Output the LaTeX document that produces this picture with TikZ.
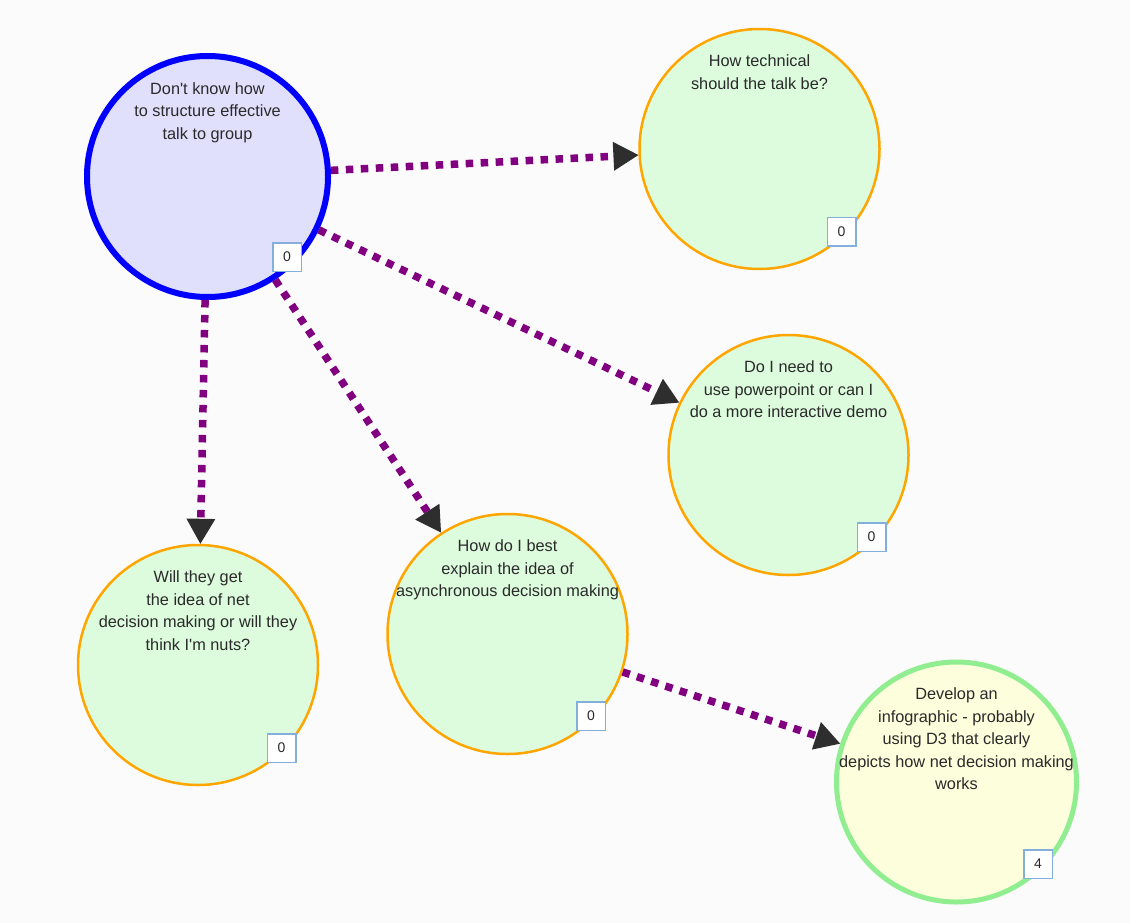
\documentclass[tikz,border=0pt]{standalone}
\usepackage{fontspec}
\setmainfont{Liberation Sans}
\usetikzlibrary{arrows.meta}
\definecolor{bg}{HTML}{FBFBFB}
\definecolor{orangeS}{HTML}{FFA500}
\definecolor{greenF}{HTML}{DDFBDD}
\definecolor{blueS}{HTML}{0000FF}
\definecolor{lavF}{HTML}{E0E0FC}
\definecolor{greenS}{HTML}{90EE90}
\definecolor{yellowF}{HTML}{FCFEDC}
\definecolor{boxS}{HTML}{84AEDC}
\definecolor{linkc}{HTML}{800080}
\definecolor{headc}{HTML}{2E2E2E}
\definecolor{textc}{HTML}{2A2A2A}
\begin{document}
\begin{tikzpicture}[x=1pt,y=-1pt,
  bubble/.style={circle, minimum size=240pt, inner sep=0pt, line width=2.5pt, draw=orangeS, fill=greenF},
  rootbubble/.style={bubble, minimum size=241pt, draw=blueS, fill=lavF, line width=6pt},
  donebubble/.style={bubble, draw=greenS, fill=yellowF, line width=5pt},
  txt/.style={anchor=north, align=center, inner sep=0pt, text=textc, font=\fontsize{16.3}{22.5}\selectfont},
  counter/.style={draw=boxS, line width=1.5pt, fill=white, minimum size=28.5pt, inner sep=0pt, text=textc, font=\fontsize{14}{16}\selectfont},
  link/.style={draw=linkc, line width=7.5pt, dash pattern=on 7.5pt off 7.5pt,
    -{Triangle[length=25pt,width=29pt,color=headc,line width=0pt]}}]
\useasboundingbox (0,0) rectangle (1130,923);
\fill[bg] (0,0) rectangle (1130,923);

% circles
\node[rootbubble] (c1) at (207.5,176.5) {};
\node[bubble] (c2) at (759.5,149) {};
\node[bubble] (c3) at (788.5,455) {};
\node[bubble] (c4) at (198,665) {};
\node[bubble] (c5) at (507.5,634) {};
\node[donebubble] (c6) at (956.5,782) {};

% links
\draw[link] (c1) -- (c2);
\draw[link] (c1) -- (c3);
\draw[link] (c1) -- (c4);
\draw[link] (c1) -- (c5);
\draw[link] (c5) -- (c6);

% counters
\node[counter] (n1) at (287,257) {0};
\node[counter] (n2) at (841.5,231.5) {0};
\node[counter] (n3) at (871.5,537) {0};
\node[counter] (n4) at (281.5,748) {0};
\node[counter] (n5) at (591,716) {0};
\node[counter] (n6) at (1038,864) {4};

% texts
\node[txt] (t1) at (207.5,82) {Don\textquotesingle t know how\\to structure effective\\talk to group};
\node[txt] (t2) at (759.5,54.5) {How technical\\should the talk be?};
\node[txt] (t3) at (788.5,360.5) {Do I need to\\use powerpoint or can I\\do a more interactive demo};
\node[txt] (t4) at (198,570.5) {Will they get\\the idea of net\\decision making or will they\\think I\textquotesingle m nuts?};
\node[txt] (t5) at (507.5,539.5) {How do I best\\explain the idea of\\asynchronous decision making};
\node[txt] (t6) at (956.5,687.5) {Develop an\\infographic - probably\\using D3 that clearly\\depicts how net decision making\\works};
\end{tikzpicture}
\end{document}
